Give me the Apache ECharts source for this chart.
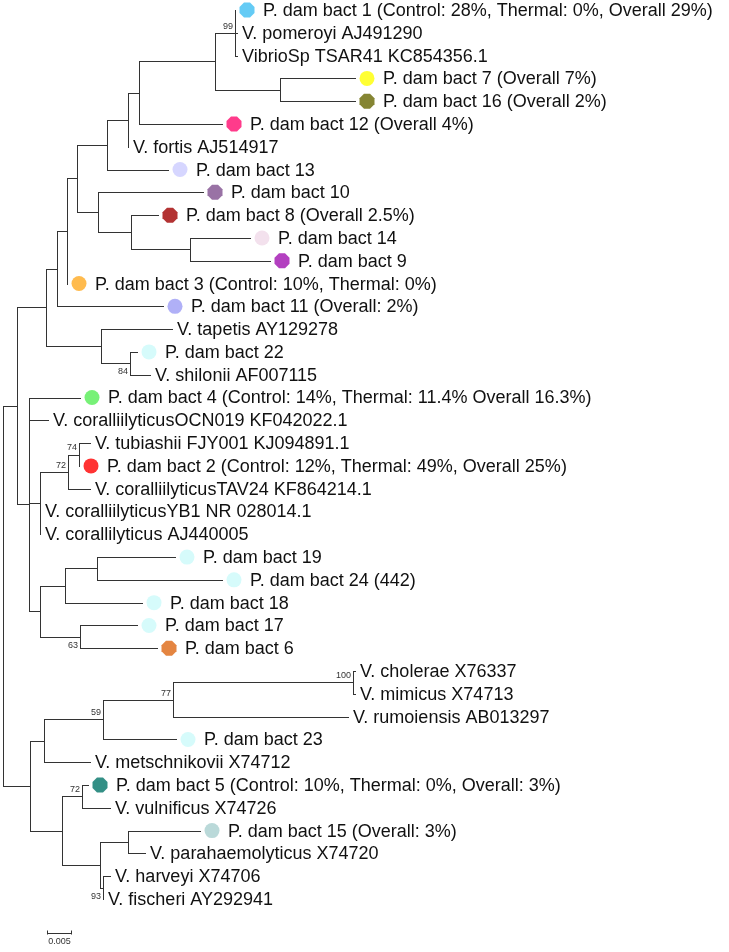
<!DOCTYPE html>
<html>
<head>
<meta charset="utf-8">
<script src="https://cdn.jsdelivr.net/npm/echarts@6/dist/echarts.min.js"></script>
<style>
html,body{margin:0;padding:0;background:#fff;}
#chart{width:729px;height:952px;}
</style>
</head>
<body>
<div id="chart"></div>
<script>
// ---- DATA ----
const leafLabels = [
  'P. dam bact 1 (Control: 28%, Thermal: 0%, Overall 29%)',
  'V. pomeroyi AJ491290',
  'VibrioSp TSAR41 KC854356.1',
  'P. dam bact 7 (Overall 7%)',
  'P. dam bact 16 (Overall 2%)',
  'P. dam bact 12 (Overall 4%)',
  'V. fortis AJ514917',
  'P. dam bact 13',
  'P. dam bact 10',
  'P. dam bact 8 (Overall 2.5%)',
  'P. dam bact 14',
  'P. dam bact 9',
  'P. dam bact 3 (Control: 10%, Thermal: 0%)',
  'P. dam bact 11 (Overall: 2%)',
  'V. tapetis AY129278',
  'P. dam bact 22',
  'V. shilonii AF007115',
  'P. dam bact 4 (Control: 14%, Thermal: 11.4% Overall 16.3%)',
  'V. coralliilyticusOCN019 KF042022.1',
  'V. tubiashii FJY001 KJ094891.1',
  'P. dam bact 2 (Control: 12%, Thermal: 49%, Overall 25%)',
  'V. coralliilyticusTAV24 KF864214.1',
  'V. coralliilyticusYB1 NR 028014.1',
  'V. corallilyticus AJ440005',
  'P. dam bact 19',
  'P. dam bact 24 (442)',
  'P. dam bact 18',
  'P. dam bact 17',
  'P. dam bact 6',
  'V. cholerae X76337',
  'V. mimicus X74713',
  'V. rumoiensis AB013297',
  'P. dam bact 23',
  'V. metschnikovii X74712',
  'P. dam bact 5 (Control: 10%, Thermal: 0%, Overall: 3%)',
  'V. vulnificus X74726',
  'P. dam bact 15 (Overall: 3%)',
  'V. parahaemolyticus X74720',
  'V. harveyi X74706',
  'V. fischeri AY292941'
];
// distance from root to each tip (substitutions/site)
const leafDepth = [
  0.0464, 0.0468, 0.0468, 0.0704, 0.0704, 0.0438, 0.0250, 0.0330, 0.0400, 0.0310,
  0.0494, 0.0534, 0.0128, 0.0320, 0.0338, 0.0268, 0.0294, 0.0154, 0.0090, 0.0174,
  0.0152, 0.0174, 0.0074, 0.0074, 0.0344, 0.0438, 0.0278, 0.0268, 0.0308, 0.0704,
  0.0704, 0.0690, 0.0346, 0.0174, 0.0170, 0.0214, 0.0394, 0.0284, 0.0214, 0.0200
];
// internal node that each tip hangs from
const leafParent = [
  10, 10, 10, 11, 11, 8, 7, 6, 12, 13,
  14, 14, 4, 3, 15, 16, 16, 17, 17, 20,
  20, 19, 18, 18, 23, 23, 22, 24, 24, 29,
  29, 28, 27, 26, 31, 31, 33, 33, 34, 34
];
// internal nodes: depth from root, parent node, bootstrap support
const nodeDepth = [
  0.0000, 0.0028, 0.0086, 0.0108, 0.0128, 0.0148, 0.0208, 0.0250, 0.0272, 0.0424,
  0.0464, 0.0554, 0.0190, 0.0256, 0.0374, 0.0196, 0.0254, 0.0052, 0.0074, 0.0130,
  0.0152, 0.0074, 0.0124, 0.0188, 0.0154, 0.0054, 0.0082, 0.0200, 0.0340, 0.0700,
  0.0118, 0.0158, 0.0194, 0.0250, 0.0200
];
const nodeParent = [
  -1, 0, 1, 2, 3, 4, 5, 6, 7, 8,
  9, 9, 5, 12, 13, 2, 15, 1, 17, 18,
  19, 17, 21, 22, 21, 0, 25, 26, 27, 28,
  25, 30, 30, 32, 32
];
const nodeSupport = [
  null, null, null, null, null, null, null, null, null, null,
  99, null, null, null, null, null, 84, null, null, 72,
  74, null, null, null, 63, null, null, 59, 77, 100,
  null, 72, null, null, 93
];
// isolate marker colours (null = reference sequence, no marker)
const leafColor = [
  '#3DBEF2', null, null, '#FFFF00', '#666600', '#FF0A6E', null, '#CCCCFF', '#7F4F8F', '#A00000',
  '#F0DAE8', '#A010B0', '#FFAA22', '#9C9CF5', null, '#CCFAFA', null, '#55EE55', null, null,
  '#FF0000', null, null, null, '#CCFAFA', '#CCFAFA', '#CCFAFA', '#CCFAFA', '#DD6611', null,
  null, null, '#CCFAFA', null, '#007366', null, '#A9CFCF', null, null, null
];
const scaleBarLength = 0.005;
const scaleBarLabel = '0.005';

// ---- layout helpers (tree topology -> y positions) ----
const nLeaf = leafLabels.length, nNode = nodeDepth.length;
const kids = Array.from({length: nNode}, () => []);
leafParent.forEach((p, i) => kids[p].push({leaf: true, id: i}));
nodeParent.forEach((p, i) => { if (p >= 0) kids[p].push({leaf: false, id: i}); });
const nodeY = new Array(nNode).fill(null);
function yOf(c) { return c.leaf ? c.id : computeY(c.id); }
function computeY(n) {
  if (nodeY[n] !== null) return nodeY[n];
  const ys = kids[n].map(yOf);
  nodeY[n] = (Math.min(...ys) + Math.max(...ys)) / 2;
  return nodeY[n];
}
for (let i = 0; i < nNode; i++) computeY(i);

const hData = [], vData = [];
leafParent.forEach((p, i) => hData.push([nodeDepth[p], leafDepth[i], i]));
nodeParent.forEach((p, i) => { if (p >= 0) hData.push([nodeDepth[p], nodeDepth[i], nodeY[i]]); });
for (let n = 0; n < nNode; n++) {
  const ys = kids[n].map(yOf);
  vData.push([nodeDepth[n], Math.min(...ys), Math.max(...ys)]);
}
const labelData = leafLabels.map((t, i) => [leafDepth[i], i, leafColor[i] ? 1 : 0]);

// marker shape style: some isolates drawn as octagons in the original figure
const OCTAGON = 'path://M3,0 L7,0 L10,3 L10,7 L7,10 L3,10 L0,7 L0,3 Z';
const octagonIds = new Set([0, 4, 5, 8, 9, 11, 28, 34]);
const markerData = [];
leafColor.forEach((c, i) => {
  if (c) markerData.push({value: [leafDepth[i], i], symbol: octagonIds.has(i) ? OCTAGON : 'circle',
                          itemStyle: {color: c}});
});
const supportData = [];
nodeSupport.forEach((s, i) => {
  if (s !== null) supportData.push([nodeDepth[i], nodeY[i], s, nodeY[i] < nodeY[nodeParent[i]] ? 1 : 0]);
});

const LINE = '#333333';
const crisp = v => Math.round(v) + 0.5;

const chart = echarts.init(document.getElementById('chart'), null, {renderer: 'canvas'});
chart.setOption({
  animation: false,
  backgroundColor: '#ffffff',
  grid: {left: 3, top: 10, width: 726, height: 889, containLabel: false},
  xAxis: {type: 'value', min: 0, max: 0.1452, show: false},
  yAxis: {type: 'value', min: 0, max: 39, inverse: true, show: false},
  series: [
    {
      type: 'custom', clip: false, data: hData,
      renderItem: (params, api) => {
        const a = api.coord([api.value(0), api.value(2)]);
        const b = api.coord([api.value(1), api.value(2)]);
        const y = crisp(a[1]);
        return {type: 'line', shape: {x1: Math.round(a[0]), y1: y, x2: Math.round(b[0]) + 1, y2: y},
                style: {stroke: LINE, lineWidth: 1}};
      }
    },
    {
      type: 'custom', clip: false, data: vData,
      renderItem: (params, api) => {
        const a = api.coord([api.value(0), api.value(1)]);
        const b = api.coord([api.value(0), api.value(2)]);
        const x = crisp(a[0]);
        return {type: 'line', shape: {x1: x, y1: Math.round(a[1]), x2: x, y2: Math.round(b[1]) + 1},
                style: {stroke: LINE, lineWidth: 1}};
      }
    },
    {
      type: 'scatter', data: markerData, symbolSize: 15, symbolOffset: [12, 0],
      silent: true,
      itemStyle: {borderWidth: 0}
    },
    {
      type: 'custom', clip: false, data: labelData,
      renderItem: (params, api) => {
        const p = api.coord([api.value(0), api.value(1)]);
        const off = api.value(2) ? 28 : 5;
        return {type: 'text', x: p[0] + off, y: p[1] + 1,
                style: {text: leafLabels[params.dataIndex], fill: '#111', font: '18px "Liberation Sans", Arial, sans-serif',
                        align: 'left', verticalAlign: 'middle'}};
      }
    },
    {
      type: 'custom', clip: false, data: supportData,
      renderItem: (params, api) => {
        const p = api.coord([api.value(0), api.value(1)]);
        const above = api.value(3) === 1;
        return {type: 'text', x: p[0] - 2, y: above ? p[1] - 2 : p[1] + 4,
                style: {text: String(api.value(2)), fill: '#333', font: '9px "Liberation Sans", Arial, sans-serif',
                        align: 'right', verticalAlign: above ? 'bottom' : 'top'}};
      }
    },
    {
      type: 'custom', clip: false, data: [[scaleBarLength]],
      renderItem: (params, api) => {
        const len = api.size([api.value(0), 0])[0];
        const x0 = 47, y0 = 933.5;
        return {type: 'group', children: [
          {type: 'line', shape: {x1: x0, y1: y0, x2: x0 + len, y2: y0}, style: {stroke: LINE, lineWidth: 1}},
          {type: 'line', shape: {x1: x0 + 0.5, y1: y0 - 3, x2: x0 + 0.5, y2: y0 + 1}, style: {stroke: LINE, lineWidth: 1}},
          {type: 'line', shape: {x1: x0 + len - 0.5, y1: y0 - 3, x2: x0 + len - 0.5, y2: y0 + 1}, style: {stroke: LINE, lineWidth: 1}},
          {type: 'text', x: x0 + len / 2, y: y0 + 4, style: {text: scaleBarLabel, fill: '#333', font: '9px "Liberation Sans", Arial, sans-serif', align: 'center', verticalAlign: 'top'}}
        ]};
      }
    }
  ]
});
</script>
</body>
</html>
